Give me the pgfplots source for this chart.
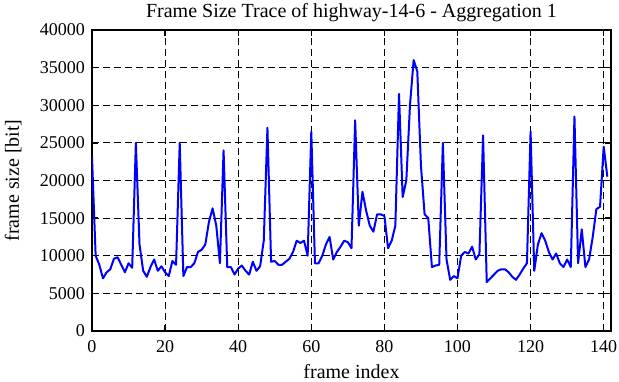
\documentclass[border=0pt]{standalone}
\usepackage{pgfplots}
\pgfplotsset{compat=1.18}
\usepackage{fontspec}
\setmainfont{Liberation Serif}
\begin{document}
\begin{tikzpicture}
\begin{axis}[
  name=ax,
  at={(0pt,0pt)}, anchor=south west,
  scale only axis,
  width=519pt, height=301pt,
  xmin=0, xmax=142, ymin=0, ymax=40000,
  xtick={0,20,...,140}, ytick={0,5000,...,40000},
  grid=major,
  major grid style={black, dash pattern=on 7pt off 4pt, line width=0.9pt},
  axis line style={black, line width=1.3pt},
  tick style={black, line width=1.3pt},
  tick align=inside,
  major tick length=6pt,
  scaled y ticks=false,
  /pgf/number format/assume math mode=true,
  /pgf/number format/set thousands separator={},
  ticklabel style={font=\fontsize{18}{21}\selectfont, inner sep=0pt},
  xticklabel style={anchor=base, yshift=-22pt},
  yticklabel style={anchor=east, xshift=-7pt},
  label style={font=\fontsize{20}{23}\selectfont},
  every axis title shift=0pt,
  title style={font=\fontsize{20}{23}\selectfont, at={(axis description cs:0.5,1.04)}, anchor=base},
  title={Frame Size Trace of highway-14-6 - Aggregation 1},
  xlabel={frame index},
  ylabel={frame size [bit]},
  xlabel style={at={(axis description cs:0.5,-0.158)}, anchor=base},
  ylabel style={at={(axis description cs:-0.152,0.5)}, anchor=center},
]
\addplot[blue, line width=2pt, mark=none, line join=round] coordinates {
(0,23100) (1,10000) (2,8800) (3,7000) (4,7800) (5,8200) (6,9600) (7,9800) (8,8800) (9,7800)
(10,9000) (11,8400) (12,25000) (13,11500) (14,8000) (15,7200) (16,8500) (17,9500) (18,8000) (19,8600)
(20,7800) (21,7300) (22,9300) (23,8800) (24,25000) (25,7300) (26,8500) (27,8500) (28,9000) (29,10500)
(30,10800) (31,11500) (32,14500) (33,16300) (34,14000) (35,9000) (36,24000) (37,8500) (38,8500) (39,7500)
(40,8300) (41,8700) (42,8000) (43,7500) (44,9200) (45,8000) (46,8600) (47,12000) (48,27000) (49,9200)
(50,9300) (51,8800) (52,8800) (53,9200) (54,9600) (55,10500) (56,12000) (57,11700) (58,12000) (59,10000)
(60,26500) (61,9000) (62,9000) (63,10000) (64,11500) (65,12500) (66,9500) (67,10500) (68,11200) (69,12000)
(70,11800) (71,11000) (72,28000) (73,14000) (74,18500) (75,16000) (76,14000) (77,13200) (78,15500) (79,15500)
(80,15300) (81,11000) (82,12000) (83,14000) (84,31500) (85,17800) (86,20000) (87,30000) (88,36000) (89,34500)
(90,22000) (91,15500) (92,15000) (93,8500) (94,8700) (95,8800) (96,25000) (97,9500) (98,6800) (99,7300)
(100,7000) (101,10000) (102,10500) (103,10300) (104,11200) (105,9500) (106,10200) (107,26000) (108,6500) (109,7000)
(110,7500) (111,8000) (112,8200) (113,8200) (114,7800) (115,7200) (116,6800) (117,7500) (118,8300) (119,9000)
(120,26500) (121,8000) (122,11500) (123,13000) (124,12000) (125,10500) (126,9500) (127,10300) (128,9000) (129,8500)
(130,9500) (131,8500) (132,28500) (133,9000) (134,13500) (135,8500) (136,9500) (137,12500) (138,16200) (139,16500)
(140,24500) (141,20500)
};
\end{axis}
\pgfresetboundingbox
\path[use as bounding box] (-92pt,-51pt) rectangle (527pt,331pt);
\end{tikzpicture}
\end{document}
